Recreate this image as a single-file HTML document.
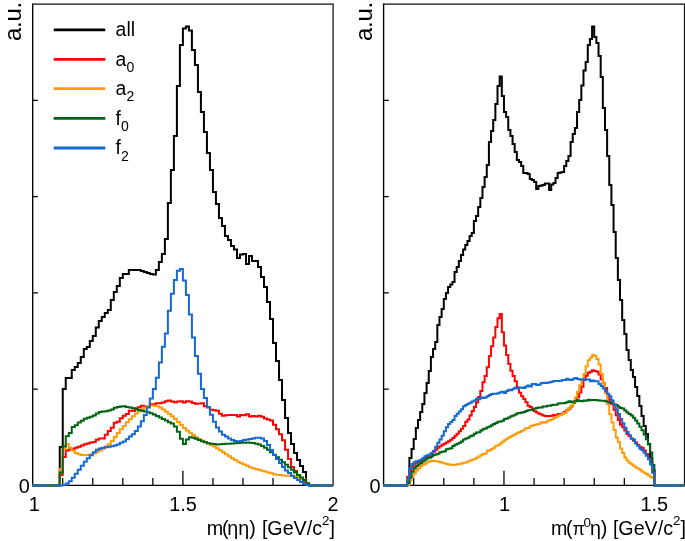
<!DOCTYPE html>
<html><head><meta charset="utf-8"><title>plot</title>
<style>html,body{margin:0;padding:0;background:#fff}svg{display:block}text{font-family:"Liberation Sans",sans-serif;fill:#000}</style></head><body>
<svg width="685" height="541" viewBox="0 0 685 541">
<rect width="685" height="541" fill="#fff"/>
<path d="M32.70,4.0H333.10V485.40" stroke="#111" stroke-width="1.25" fill="none"/><g stroke="#000" stroke-width="1.35" fill="none"><path d="M32.70,3.5V485.40H333.10"/><path d="M62.74,485.40v-7.4M92.78,485.40v-7.4M122.82,485.40v-7.4M152.86,485.40v-7.4M182.90,485.40v-14.6M212.94,485.40v-7.4M242.98,485.40v-7.4M273.02,485.40v-7.4M303.06,485.40v-7.4M32.70,389.12h5.2M32.70,292.84h5.2M32.70,196.56h5.2M32.70,100.28h5.2" stroke-width="1.25"/></g>
<path d="M383.60,4.0H684.50V485.40" stroke="#111" stroke-width="1.25" fill="none"/><g stroke="#000" stroke-width="1.35" fill="none"><path d="M383.60,3.5V485.40H684.50"/><path d="M413.69,485.40v-7.4M443.78,485.40v-7.4M473.87,485.40v-7.4M503.96,485.40v-14.6M534.05,485.40v-7.4M564.14,485.40v-7.4M594.23,485.40v-7.4M624.32,485.40v-7.4M654.41,485.40v-14.6M383.60,389.12h5.2M383.60,292.84h5.2M383.60,196.56h5.2M383.60,100.28h5.2" stroke-width="1.25"/></g>
<path d="M32.20,485.40H59.74V447.00H62.74V389.00H65.74V378.00H71.75V370.00H74.76V367.00H77.76V363.00H80.76V357.00H83.77V349.00H86.77V347.00H89.78V341.00H92.78V336.00H95.78V327.60H98.79V321.00H101.79V317.00H104.80V313.00H107.80V310.00H110.80V300.00H113.81V292.00H116.81V286.00H119.82V278.00H122.82V274.00H128.83V270.00H140.84V271.00H143.85V272.00H146.85V273.00H149.86V274.00H152.86V274.40H155.86V270.00H158.87V262.00H161.87V254.00H164.88V239.00H167.88V203.00H170.88V170.00H173.89V136.00H176.89V86.00H179.90V45.00H182.90V28.60H185.90V26.60H188.91V30.40H191.91V50.00H194.92V65.00H197.92V92.00H200.92V112.00H203.93V132.00H206.93V153.00H209.94V170.00H212.94V192.00H215.94V204.00H218.95V218.00H221.95V226.00H224.96V236.00H227.96V240.00H230.96V246.00H233.97V249.60H236.97V258.00H239.98V254.40H242.98V254.00H245.98V264.00H248.99V256.00H251.99V261.00H258.00V267.00H261.00V277.00H264.01V287.00H267.01V302.00H270.02V319.00H273.02V343.00H276.02V361.00H279.03V380.00H282.03V400.00H285.04V418.00H288.04V433.00H291.04V444.00H294.05V453.00H297.05V460.00H300.06V466.00H303.06V472.00H306.06V483.00H309.07V485.40H333.10" fill="none" stroke="#000000" stroke-width="2.0" stroke-linejoin="miter"/>
<path d="M32.20,485.40H59.74V475.00H62.74V456.90H65.74V450.40H68.75V449.20H71.75V449.00H74.76V447.80H77.76V446.75H80.76V445.59H83.77V444.22H86.77V443.52H89.78V442.61H92.78V442.10H95.78V439.83H98.79V438.50H101.79V438.56H104.80V434.81H107.80V431.06H110.80V427.68H113.81V422.82H116.81V421.82H119.82V418.20H122.82V415.73H125.82V414.09H128.83V410.73H131.83V411.04H134.84V408.20H137.84V407.21H140.84V405.65H143.85V406.45H146.85V405.92H149.86V404.16H152.86V404.36H155.86V403.25H158.87V403.34H161.87V402.55H164.88V401.30H167.88V400.55H170.88V401.54H173.89V402.36H176.89V401.45H179.90V401.28H182.90V402.53H185.90V401.30H188.91V401.52H191.91V403.11H194.92V403.65H197.92V403.62H200.92V403.29H203.93V406.26H206.93V407.41H209.94V409.68H212.94V410.25H215.94V410.83H218.95V413.71H221.95V415.81H224.96V415.16H227.96V415.07H230.96V414.88H233.97V414.97H236.97V416.46H239.98V415.01H242.98V415.30H245.98V414.23H248.99V416.41H251.99V415.98H255.00V416.38H258.00V415.67H261.00V416.70H264.01V418.45H267.01V419.39H270.02V420.45H273.02V424.76H276.02V429.25H279.03V434.31H282.03V440.23H285.04V449.79H288.04V458.96H291.04V466.88H294.05V471.07H297.05V475.04H300.06V478.60H303.06V481.66H306.06V483.96H309.07V485.40H333.10" fill="none" stroke="#ff0000" stroke-width="2.0" stroke-linejoin="miter"/>
<path d="M32.20,485.40H59.74V469.00H62.74V449.00H65.74V444.00H68.75V447.80H71.75V450.40H74.76V453.00H77.76V454.30H80.76V455.00H89.78V454.56H92.78V453.61H95.78V452.11H98.79V450.61H101.79V448.65H104.80V446.47H107.80V444.20H110.80V440.93H113.81V436.92H116.81V432.91H119.82V429.18H122.82V425.90H125.82V422.17H128.83V419.17H131.83V416.17H134.84V413.44H137.84V411.33H140.84V409.15H143.85V407.43H146.85V405.91H149.86V405.61H152.86V405.83H155.86V406.29H158.87V407.58H161.87V409.58H164.88V411.66H167.88V413.91H170.88V416.16H173.89V418.89H176.89V421.89H179.90V424.90H182.90V427.90H185.90V430.43H188.91V432.68H191.91V434.94H194.92V437.19H197.92V438.96H200.92V440.46H203.93V441.97H206.93V443.47H209.94V444.97H212.94V446.47H215.94V448.30H218.95V450.30H221.95V452.30H224.96V454.31H227.96V456.31H230.96V458.31H233.97V460.12H236.97V461.82H239.98V463.26H242.98V464.56H245.98V465.86H248.99V467.16H251.99V468.20H255.00V469.10H258.00V469.93H261.00V470.73H264.01V471.56H267.01V472.40H270.02V473.37H273.02V474.17H276.02V474.67H279.03V475.10H282.03V475.40H285.04V475.67H288.04V475.87H291.04V476.17H294.05V476.68H297.05V477.25H300.06V477.95H303.06V479.51H306.06V482.65H309.07V485.40H333.10" fill="none" stroke="#ff9c0a" stroke-width="2.0" stroke-linejoin="miter"/>
<path d="M32.20,485.40H59.74V472.40H62.74V446.50H65.74V436.20H68.75V432.90H71.75V427.10H74.76V425.20H77.76V422.59H80.76V420.79H83.77V418.74H86.77V417.74H89.78V416.74H92.78V415.48H95.78V413.48H98.79V411.92H101.79V411.62H104.80V411.21H107.80V410.51H110.80V409.46H113.81V407.81H116.81V407.11H119.82V406.44H122.82V406.27H125.82V407.10H128.83V407.46H131.83V408.24H134.84V409.20H137.84V409.90H140.84V410.63H143.85V411.43H146.85V412.28H149.86V413.29H152.86V414.43H155.86V415.93H158.87V417.44H161.87V418.94H164.88V420.59H167.88V422.35H170.88V423.55H173.89V426.52H176.89V431.79H179.90V438.75H182.90V444.00H185.90V439.56H188.91V437.30H191.91V437.67H194.92V438.80H197.92V440.10H200.92V441.31H203.93V442.31H206.93V443.16H209.94V443.66H212.94V444.09H215.94V444.39H218.95V444.20H221.95V444.00H224.96V443.85H227.96V443.70H230.96V443.53H233.97V443.30H236.97V443.08H239.98V442.85H242.98V442.63H245.98V442.40H248.99V442.70H251.99V443.00H255.00V443.70H258.00V444.40H261.00V445.90H264.01V447.71H267.01V449.85H270.02V452.35H273.02V454.85H276.02V457.36H279.03V459.86H282.03V462.36H285.04V464.87H288.04V467.37H291.04V469.87H294.05V472.38H297.05V474.88H300.06V477.38H303.06V480.02H306.06V483.13H309.07V485.40H333.10" fill="none" stroke="#006414" stroke-width="2.0" stroke-linejoin="miter"/>
<path d="M32.20,485.40H62.74V484.94H65.74V483.57H68.75V481.25H71.75V477.66H74.76V473.66H77.76V469.65H80.76V465.65H83.77V461.64H86.77V458.23H89.78V455.22H92.78V452.22H95.78V449.81H98.79V448.40H101.79V447.70H104.80V447.20H107.80V446.70H110.80V446.20H113.81V445.55H116.81V444.46H119.82V442.73H122.82V441.45H125.82V439.17H128.83V436.45H131.83V434.17H134.84V430.88H137.84V426.60H140.84V421.31H143.85V415.02H146.85V407.44H149.86V398.43H152.86V388.89H155.86V377.67H158.87V362.56H161.87V346.87H164.88V333.45H167.88V310.76H170.88V293.67H173.89V280.03H176.89V270.71H179.90V269.09H182.90V280.41H185.90V294.94H188.91V314.44H191.91V337.53H194.92V355.91H197.92V373.72H200.92V388.98H203.93V397.99H206.93V406.89H209.94V414.79H212.94V421.68H215.94V427.46H218.95V431.40H221.95V434.63H224.96V436.58H227.96V438.54H230.96V440.08H233.97V441.06H236.97V441.51H239.98V440.89H242.98V440.12H245.98V439.54H248.99V439.09H251.99V438.40H255.00V437.86H258.00V437.69H261.00V438.41H264.01V441.01H267.01V445.02H270.02V450.03H273.02V455.03H276.02V459.03H279.03V463.04H282.03V467.04H285.04V470.43H288.04V473.04H291.04V475.64H294.05V478.03H297.05V480.04H300.06V482.04H303.06V484.02H306.06V485.00H309.07V485.40H333.10" fill="none" stroke="#1469d2" stroke-width="2.0" stroke-linejoin="miter"/>
<path d="M383.10,485.40H407.24V485.00H409.39V458.00H411.54V449.00H413.69V439.00H415.84V428.00H417.99V420.00H420.14V412.00H422.29V404.00H424.44V393.00H426.59V383.00H428.74V371.00H430.88V357.00H433.03V349.00H435.18V342.00H437.33V325.00H439.48V317.00H441.63V309.00H443.78V299.00H445.93V293.00H448.08V287.00H450.23V284.50H452.38V282.00H454.53V272.00H456.68V267.00H458.83V261.00H460.97V255.00H463.12V249.60H465.27V245.00H467.42V241.00H469.57V236.00H471.72V233.00H473.87V221.00H476.02V216.00H478.17V207.00H480.32V198.00H482.47V187.00H484.62V177.00H486.77V165.00H488.92V142.00H491.06V131.00H493.21V120.00H495.36V104.00H497.51V86.00H499.66V76.40H501.81V96.00H503.96V112.00H506.11V117.00H508.26V130.00H510.41V136.00H512.56V144.00H514.71V152.00H516.86V160.00H519.00V162.00H521.15V166.00H523.30V173.00H527.60V174.00H529.75V179.00H531.90V180.00H534.05V182.00H536.20V189.00H538.35V186.00H540.50V185.60H542.65V185.00H544.80V183.60H549.10V190.00H551.24V184.40H553.39V183.00H555.54V178.00H557.69V173.00H559.84V172.50H561.99V172.00H564.14V166.00H566.29V161.00H568.44V156.00H570.59V142.00H572.74V134.00H574.89V128.00H577.04V112.00H579.18V100.00H581.33V85.50H583.48V70.50H585.63V62.00H587.78V45.00H589.93V39.00H592.08V26.60H594.23V37.00H596.38V43.00H598.53V56.00H600.68V77.00H602.83V108.00H604.98V130.00H607.13V156.00H609.27V185.00H611.42V205.00H613.57V232.00H615.72V258.00H617.87V280.00H620.02V300.00H622.17V320.00H624.32V334.00H626.47V350.00H628.62V360.00H630.77V370.00H632.92V377.00H635.07V387.00H637.22V396.00H639.37V406.00H641.51V416.00H643.66V426.00H645.81V434.00H647.96V444.00H650.11V458.00H652.26V470.00H654.41V485.40H684.50" fill="none" stroke="#000000" stroke-width="2.0" stroke-linejoin="miter"/>
<path d="M383.10,485.40H407.24V476.70H409.39V470.18H411.54V466.57H413.69V463.81H415.84V462.21H417.99V461.53H420.14V460.86H422.29V459.42H424.44V457.83H426.59V456.84H428.74V454.83H430.88V453.32H433.03V451.79H435.18V449.73H437.33V447.77H439.48V446.22H441.63V444.67H443.78V443.76H445.93V442.46H448.08V441.16H450.23V439.63H452.38V437.98H454.53V435.77H456.68V433.78H458.83V431.27H460.97V428.67H463.12V425.94H465.27V421.69H467.42V419.46H469.57V415.62H471.72V410.98H473.87V407.05H476.02V402.45H478.17V397.06H480.32V391.00H482.47V382.20H484.62V376.00H486.77V367.30H488.92V355.90H491.06V346.20H493.21V337.50H495.36V326.90H497.51V318.20H499.66V314.10H501.81V332.20H503.96V345.40H506.11V355.00H508.26V363.80H510.41V370.80H512.56V376.00H514.71V381.30H516.86V387.50H519.00V392.70H521.15V396.20H523.30V399.00H525.45V402.18H527.60V405.72H529.75V406.95H531.90V409.21H534.05V411.15H536.20V412.55H538.35V413.67H540.50V414.47H542.65V415.50H544.80V416.01H546.95V416.21H549.10V416.11H551.24V415.86H553.39V415.10H555.54V415.48H557.69V413.92H559.84V414.14H561.99V413.62H564.14V411.74H566.29V410.36H568.44V408.82H570.59V406.41H572.74V402.95H574.89V400.34H577.04V397.34H579.18V392.51H581.33V386.73H583.48V379.55H585.63V375.71H587.78V372.85H589.93V371.75H592.08V370.36H594.23V371.11H596.38V371.73H598.53V374.51H600.68V379.16H602.83V383.23H604.98V387.88H607.13V395.24H609.27V399.71H611.42V403.98H613.57V409.64H615.72V415.23H617.87V419.88H620.02V424.87H622.17V427.21H624.32V430.40H626.47V434.11H628.62V436.10H630.77V438.55H632.92V440.67H635.07V442.61H637.22V445.03H639.37V446.99H641.51V448.07H643.66V450.46H645.81V454.03H647.96V458.51H650.11V463.00H652.26V471.34H654.41V485.40H684.50" fill="none" stroke="#ff0000" stroke-width="2.0" stroke-linejoin="miter"/>
<path d="M383.10,485.40H407.24V485.00H409.39V480.14H411.54V476.38H413.69V473.46H415.84V470.57H417.99V468.59H420.14V466.31H422.29V464.67H424.44V463.63H426.59V462.21H428.74V461.30H430.88V460.87H433.03V461.11H435.18V461.30H437.33V461.59H439.48V462.21H441.63V462.70H443.78V463.13H445.93V463.93H448.08V464.38H450.23V464.73H452.38V465.03H454.53V464.63H456.68V464.35H458.83V464.10H460.97V463.40H463.12V462.87H465.27V462.45H467.42V461.46H469.57V460.62H471.72V459.83H473.87V459.09H476.02V457.78H478.17V456.49H480.32V455.21H482.47V454.11H484.62V453.52H486.77V450.66H488.92V450.47H491.06V448.98H493.21V447.76H495.36V445.65H497.51V445.35H499.66V443.53H501.81V441.73H503.96V440.37H506.11V438.63H508.26V437.52H510.41V436.16H512.56V435.25H514.71V433.93H516.86V432.77H519.00V432.03H521.15V430.93H523.30V429.74H525.45V428.05H527.60V427.89H529.75V426.26H531.90V425.46H534.05V424.91H536.20V424.35H538.35V424.02H540.50V422.29H542.65V422.75H544.80V422.16H546.95V420.78H549.10V420.23H551.24V419.45H553.39V418.36H555.54V416.97H557.69V415.66H559.84V414.99H561.99V413.92H564.14V413.10H566.29V410.50H568.44V407.92H570.59V405.78H572.74V401.98H574.89V397.47H577.04V391.83H579.18V385.28H581.33V379.99H583.48V374.08H585.63V366.47H587.78V360.13H589.93V357.70H592.08V355.09H594.23V355.98H596.38V358.98H598.53V364.38H600.68V373.84H602.83V383.61H604.98V392.95H607.13V404.26H609.27V414.13H611.42V422.61H613.57V429.89H615.72V437.52H617.87V441.97H620.02V448.42H622.17V452.91H624.32V457.59H626.47V460.53H628.62V462.70H630.77V464.32H632.92V465.74H635.07V467.52H637.22V468.49H639.37V469.79H641.51V471.44H643.66V472.72H645.81V473.96H647.96V475.38H650.11V476.97H652.26V478.02H654.41V485.40H684.50" fill="none" stroke="#ff9c0a" stroke-width="2.0" stroke-linejoin="miter"/>
<path d="M383.10,485.40H407.24V482.93H409.39V477.46H411.54V471.78H413.69V468.36H415.84V465.92H417.99V464.17H420.14V462.96H422.29V461.22H424.44V459.65H426.59V458.19H428.74V457.64H430.88V456.51H433.03V455.07H435.18V454.46H437.33V453.70H439.48V452.24H441.63V451.70H443.78V451.25H445.93V449.24H448.08V448.83H450.23V448.15H452.38V446.02H454.53V444.78H456.68V443.77H458.83V442.65H460.97V441.39H463.12V439.51H465.27V438.55H467.42V437.64H469.57V436.20H471.72V435.42H473.87V433.66H476.02V432.57H478.17V432.28H480.32V430.53H482.47V429.14H484.62V428.40H486.77V427.25H488.92V426.50H491.06V425.34H493.21V423.99H495.36V422.90H497.51V421.85H499.66V421.51H501.81V420.75H503.96V419.06H506.11V418.39H508.26V417.43H510.41V416.24H512.56V415.39H514.71V414.60H516.86V413.29H519.00V412.89H521.15V412.60H523.30V412.06H525.45V410.97H527.60V410.22H529.75V410.04H531.90V410.00H534.05V408.42H536.20V407.95H538.35V407.59H540.50V407.45H542.65V406.48H544.80V406.52H546.95V405.73H549.10V405.80H551.24V405.12H553.39V404.66H555.54V404.66H557.69V403.53H559.84V403.25H561.99V403.34H564.14V402.93H566.29V402.30H568.44V401.13H570.59V401.94H572.74V401.59H574.89V401.14H577.04V400.36H579.18V401.11H581.33V401.22H583.48V400.57H585.63V400.69H587.78V399.82H589.93V400.15H592.08V399.98H594.23V399.94H596.38V400.37H598.53V400.39H600.68V400.66H602.83V400.87H604.98V401.37H607.13V401.84H609.27V402.78H611.42V403.16H613.57V404.71H615.72V404.97H617.87V406.69H620.02V407.99H622.17V408.44H624.32V410.54H626.47V412.61H628.62V413.97H630.77V415.62H632.92V417.84H635.07V420.57H637.22V423.42H639.37V426.84H641.51V430.15H643.66V434.56H645.81V439.17H647.96V444.50H650.11V452.45H652.26V464.92H654.41V485.40H684.50" fill="none" stroke="#006414" stroke-width="2.0" stroke-linejoin="miter"/>
<path d="M383.10,485.40H407.24V479.28H409.39V467.91H411.54V464.10H413.69V462.13H415.84V461.35H417.99V460.74H420.14V459.85H422.29V458.19H424.44V456.25H426.59V455.23H428.74V454.77H430.88V453.00H433.03V451.01H435.18V446.78H437.33V442.65H439.48V439.41H441.63V435.80H443.78V431.30H445.93V427.37H448.08V423.94H450.23V421.88H452.38V420.04H454.53V416.12H456.68V413.68H458.83V411.52H460.97V409.27H463.12V406.31H465.27V404.88H467.42V403.69H469.57V402.75H471.72V401.60H473.87V400.54H476.02V398.70H478.17V399.16H480.32V397.55H482.47V398.03H484.62V397.53H486.77V396.29H488.92V395.07H491.06V393.92H493.21V393.63H495.36V393.66H497.51V393.31H499.66V392.20H501.81V391.76H503.96V392.95H506.11V391.08H508.26V389.73H510.41V390.18H512.56V388.83H514.71V387.60H516.86V388.59H519.00V387.64H521.15V387.58H523.30V388.00H525.45V386.52H527.60V385.47H529.75V386.41H531.90V383.91H534.05V384.01H536.20V385.01H538.35V384.70H540.50V383.33H542.65V382.71H544.80V382.97H546.95V382.69H549.10V382.33H551.24V381.71H553.39V380.99H555.54V381.04H557.69V380.94H559.84V380.64H561.99V380.09H564.14V379.98H566.29V378.67H568.44V379.85H570.59V379.93H572.74V378.65H574.89V378.04H577.04V379.10H579.18V379.43H581.33V379.28H583.48V380.12H585.63V379.53H587.78V379.49H589.93V381.21H592.08V380.48H594.23V381.16H596.38V381.20H598.53V384.04H600.68V385.90H602.83V388.38H604.98V391.31H607.13V393.72H609.27V396.13H611.42V400.57H613.57V404.49H615.72V409.33H617.87V414.00H620.02V419.10H622.17V423.30H624.32V427.75H626.47V432.09H628.62V435.36H630.77V438.78H632.92V439.51H635.07V443.46H637.22V445.68H639.37V448.86H641.51V450.19H643.66V452.70H645.81V455.63H647.96V459.36H650.11V464.48H652.26V473.12H654.41V485.40H684.50" fill="none" stroke="#1469d2" stroke-width="2.0" stroke-linejoin="miter"/>
<path d="M53.7,29.8H105.3" stroke="#000000" stroke-width="2.8" fill="none"/>
<path d="M53.7,59.35H105.3" stroke="#ff0000" stroke-width="2.8" fill="none"/>
<path d="M53.7,88.6H105.3" stroke="#ff9c0a" stroke-width="2.8" fill="none"/>
<path d="M53.7,118.3H105.3" stroke="#006414" stroke-width="2.8" fill="none"/>
<path d="M53.7,148.0H105.3" stroke="#1469d2" stroke-width="2.8" fill="none"/>
<text x="115.6" y="35.8" font-size="19.4">all</text>
<text x="115.6" y="65.5" font-size="19.4">a<tspan font-size="14" dy="6.3">0</tspan></text>
<text x="115.6" y="94.8" font-size="19.4">a<tspan font-size="14" dy="6.3">2</tspan></text>
<text x="115.6" y="124.5" font-size="19.4">f<tspan font-size="14" dy="6.3">0</tspan></text>
<text x="115.6" y="154.2" font-size="19.4">f<tspan font-size="14" dy="6.3">2</tspan></text>
<text x="29.7" y="492.6" font-size="19.9" text-anchor="end">0</text>
<text x="34.2" y="510.6" font-size="19.9" text-anchor="middle">1</text>
<text x="183" y="510.6" font-size="19.9" text-anchor="middle">1.5</text>
<text x="333" y="510.6" font-size="19.9" text-anchor="middle">2</text>
<text x="380.6" y="492.6" font-size="19.9" text-anchor="end">0</text>
<text x="504.6" y="510.6" font-size="19.9" text-anchor="middle">1</text>
<text x="654.3" y="510.6" font-size="19.9" text-anchor="middle">1.5</text>
<text y="534.6" font-size="19.7"><tspan x="206.8">m</tspan><tspan x="222.1">(</tspan><tspan x="227.3">ηη) </tspan><tspan x="261.9">[GeV/c</tspan><tspan font-size="13.4" dy="-10.1">2</tspan><tspan dy="10.1">]</tspan></text>
<text y="534.6" font-size="19.7"><tspan x="551.0">m</tspan><tspan x="565.9">(</tspan><tspan x="572.6" font-size="17.9">π</tspan><tspan x="583.4" font-size="13.5" dy="-7.5">0</tspan><tspan x="589.9" dy="7.5">η) </tspan><tspan x="612.9">[GeV/c</tspan><tspan font-size="13.4" dy="-10.1">2</tspan><tspan dy="10.1">]</tspan></text>
<text transform="translate(20.8,41.0) rotate(-90)" font-size="24" letter-spacing="-0.25">a.u.</text>
<text transform="translate(371.9,41.0) rotate(-90)" font-size="24" letter-spacing="-0.25">a.u.</text>
</svg></body></html>
